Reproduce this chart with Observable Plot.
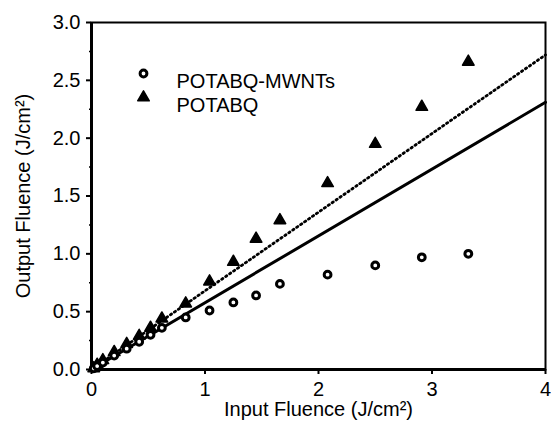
<!DOCTYPE html>
<html><head><meta charset="utf-8">
<script src="https://cdn.jsdelivr.net/npm/d3@7"></script>
<script src="https://cdn.jsdelivr.net/npm/@observablehq/plot@0.6"></script>
<style>body{margin:0;background:#fff}</style></head>
<body><div id="chart"></div>
<script>
const inputFluence = [0.02, 0.05, 0.1, 0.2, 0.31, 0.42, 0.52, 0.62, 0.83, 1.04, 1.25, 1.45, 1.66, 2.08, 2.5, 2.91, 3.32];
const mwntOutput   = [0.01, 0.03, 0.06, 0.12, 0.18, 0.24, 0.30, 0.36, 0.45, 0.51, 0.58, 0.64, 0.74, 0.82, 0.90, 0.97, 1.00];
const potabqOutput = [0.01, 0.04, 0.08, 0.15, 0.22, 0.29, 0.36, 0.44, 0.57, 0.76, 0.93, 1.13, 1.29, 1.61, 1.95, 2.27, 2.66];
const refX = [0, 4];
const solidRefY = [0, 2.31];
const dottedRefY = [0, 2.72];
const xTicks = [0, 1, 2, 3, 4];
const xMinorTicks = [0.5, 1.5, 2.5, 3.5];
const yTicks = [0, 0.5, 1.0, 1.5, 2.0, 2.5, 3.0];
const yMinorTicks = [0.25, 0.75, 1.25, 1.75, 2.25, 2.75];
const seriesNames = ["POTABQ-MWNTs", "POTABQ"];
const xLabel = "Input Fluence (J/cm²)";
const yLabel = "Output Fluence (J/cm²)";

const mwnt = inputFluence.map((x, i) => ({x, y: mwntOutput[i]}));
const potabq = inputFluence.map((x, i) => ({x, y: potabqOutput[i]}));
const solidLine = refX.map((x, i) => ({x, y: solidRefY[i]}));
const dottedLine = refX.map((x, i) => ({x, y: dottedRefY[i]}));
const noLabel = () => "";

const chart = Plot.plot({
  width: 551, height: 429,
  marginLeft: 91, marginRight: 6, marginTop: 22, marginBottom: 60,
  style: {fontFamily: "'Liberation Sans', Arial, sans-serif", fontSize: "20px", color: "#000", background: "#fff"},
  x: {domain: [0, 4]},
  y: {domain: [0, 3]},
  marks: [
    Plot.axisX({ticks: xTicks, tickSize: 5, tickPadding: 7, tickFormat: d3.format("d"), strokeWidth: 2, label: xLabel, labelAnchor: "center", labelArrow: "none", labelOffset: 46}),
    Plot.axisX({ticks: xMinorTicks, tickSize: 2, tickFormat: noLabel, strokeWidth: 1.5, label: null}),
    Plot.axisY({ticks: yTicks, tickSize: 5, tickPadding: 6, tickFormat: d3.format(".1f"), strokeWidth: 2, label: yLabel, labelAnchor: "center", labelArrow: "none", labelOffset: 76}),
    Plot.axisY({ticks: yMinorTicks, tickSize: 2, tickFormat: noLabel, strokeWidth: 1.5, label: null}),
    Plot.frame({stroke: "#000", strokeWidth: 2}),
    Plot.ruleX([0], {stroke: "#000", strokeWidth: 3}),
    Plot.ruleY([0], {stroke: "#000", strokeWidth: 3}),
    Plot.line(solidLine, {x: "x", y: "y", stroke: "#000", strokeWidth: 3}),
    Plot.line(dottedLine, {x: "x", y: "y", stroke: "#000", strokeWidth: 2.8, strokeDasharray: "1.4,3.4"}),
    Plot.dot(potabq, {x: "x", y: "y", symbol: "triangle", r: 4.3, fill: "#000", stroke: "#000", strokeWidth: 1.5, strokeLinejoin: "round"}),
    Plot.dot(mwnt, {x: "x", y: "y", r: 3.4, fill: "#fff", stroke: "#000", strokeWidth: 3}),
    // legend
    Plot.dot([seriesNames[0]], {frameAnchor: "top-left", dx: 52, dy: 51, r: 3.4, fill: "#fff", stroke: "#000", strokeWidth: 3}),
    Plot.dot([seriesNames[1]], {frameAnchor: "top-left", dx: 52, dy: 75, symbol: "triangle", r: 4.3, fill: "#000", stroke: "#000", strokeWidth: 1.5, strokeLinejoin: "round"}),
    Plot.text([seriesNames[0]], {text: d => d, frameAnchor: "top-left", dx: 85, dy: 51, textAnchor: "start", fontSize: 20}),
    Plot.text([seriesNames[1]], {text: d => d, frameAnchor: "top-left", dx: 85, dy: 75, textAnchor: "start", fontSize: 20})
  ]
});
document.getElementById("chart").appendChild(chart);
</script>
</body></html>
